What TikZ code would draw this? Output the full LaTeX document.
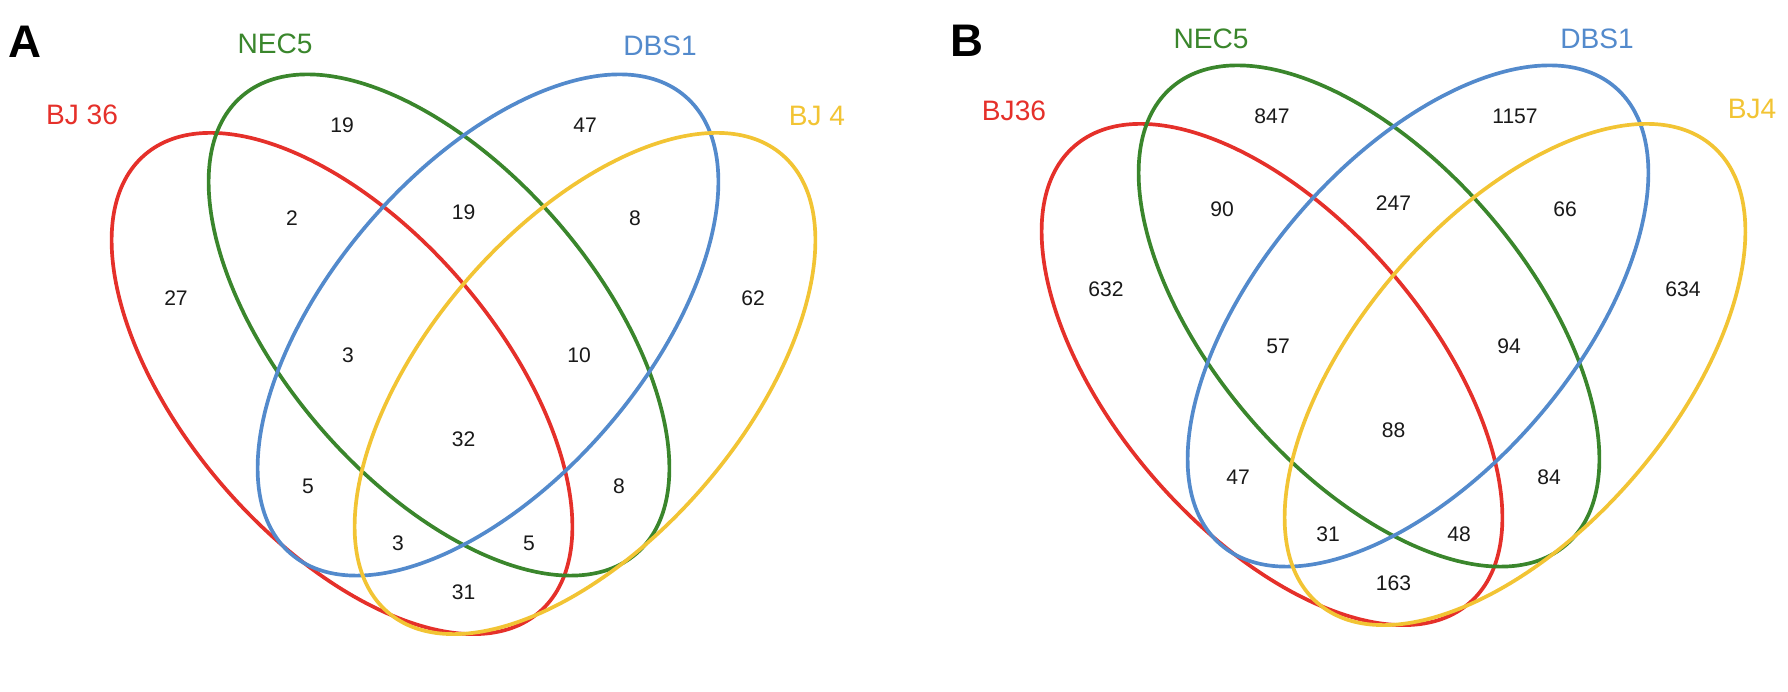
\documentclass[tikz,border=0pt]{standalone}
\usepackage{fontspec}
\setmainfont{Liberation Sans}

\definecolor{vennred}{RGB}{229,48,42}
\definecolor{venngreen}{RGB}{58,134,44}
\definecolor{vennblue}{RGB}{83,138,204}
\definecolor{vennyellow}{RGB}{242,196,52}

\begin{document}
\begin{tikzpicture}[x=0.02cm, y=0.02cm,
	setline/.style={line width=2.1pt},
	count/.style={font=\fontsize{12}{14}\selectfont, text=black!90},
	setname/.style={font=\fontsize{16}{19}\selectfont},
	panel/.style={font=\fontsize{26}{30}\selectfont\bfseries}]
	\useasboundingbox (0,0) rectangle (1788,692);
	% panel A
	\draw[setline, vennred, shift={(342,308.5)}, rotate=-49.2] (0,0) ellipse (302 and 157);
	\draw[setline, venngreen, shift={(439,367)}, rotate=-49.2] (0,0) ellipse (302 and 157);
	\draw[setline, vennblue, shift={(488,367)}, rotate=49.2] (0,0) ellipse (302 and 157);
	\draw[setline, vennyellow, shift={(585,308.5)}, rotate=49.2] (0,0) ellipse (302 and 157);
	\node[panel] (labA) at (25,650) {A};
	\node[setname, text=vennred] (aBJ36) at (82,577) {BJ 36};
	\node[setname, text=venngreen] (aNEC5) at (275,648) {NEC5};
	\node[setname, text=vennblue] (aDBS1) at (660,646) {DBS1};
	\node[setname, text=vennyellow] (aBJ4) at (817,576) {BJ 4};
	\node[count] (aR) at (176,394) {27};
	\node[count] (aG) at (342,567) {19};
	\node[count] (aB) at (585,567) {47};
	\node[count] (aY) at (753,394) {62};
	\node[count] (aRG) at (292,474) {2};
	\node[count] (aGB) at (463.5,480) {19};
	\node[count] (aBY) at (635,474) {8};
	\node[count] (aRGB) at (348,337) {3};
	\node[count] (aGBY) at (579,337) {10};
	\node[count] (aRGBY) at (463.5,253) {32};
	\node[count] (aRB) at (308,206) {5};
	\node[count] (aGY) at (619,206) {8};
	\node[count] (aRBY) at (398,149) {3};
	\node[count] (aRGY) at (529,149) {5};
	\node[count] (aRY) at (463.5,100) {31};
	% panel B
	\begin{scope}[shift={(930,9)}]
	\draw[setline, vennred, shift={(342,308.5)}, rotate=-49.2] (0,0) ellipse (302 and 157);
	\draw[setline, venngreen, shift={(439,367)}, rotate=-49.2] (0,0) ellipse (302 and 157);
	\draw[setline, vennblue, shift={(488,367)}, rotate=49.2] (0,0) ellipse (302 and 157);
	\draw[setline, vennyellow, shift={(585,308.5)}, rotate=49.2] (0,0) ellipse (302 and 157);
	\node[panel] (labB) at (37,642) {B};
	\node[setname, text=vennred] (bBJ36) at (84,572) {BJ36};
	\node[setname, text=venngreen] (bNEC5) at (281,644) {NEC5};
	\node[setname, text=vennblue] (bDBS1) at (667,644) {DBS1};
	\node[setname, text=vennyellow] (bBJ4) at (822,574) {BJ4};
	\node[count] (bR) at (176,394) {632};
	\node[count] (bG) at (342,567) {847};
	\node[count] (bB) at (585,567) {1157};
	\node[count] (bY) at (753,394) {634};
	\node[count] (bRG) at (292,474) {90};
	\node[count] (bGB) at (463.5,480) {247};
	\node[count] (bBY) at (635,474) {66};
	\node[count] (bRGB) at (348,337) {57};
	\node[count] (bGBY) at (579,337) {94};
	\node[count] (bRGBY) at (463.5,253) {88};
	\node[count] (bRB) at (308,206) {47};
	\node[count] (bGY) at (619,206) {84};
	\node[count] (bRBY) at (398,149) {31};
	\node[count] (bRGY) at (529,149) {48};
	\node[count] (bRY) at (463.5,100) {163};
	\end{scope}
\end{tikzpicture}
\end{document}
